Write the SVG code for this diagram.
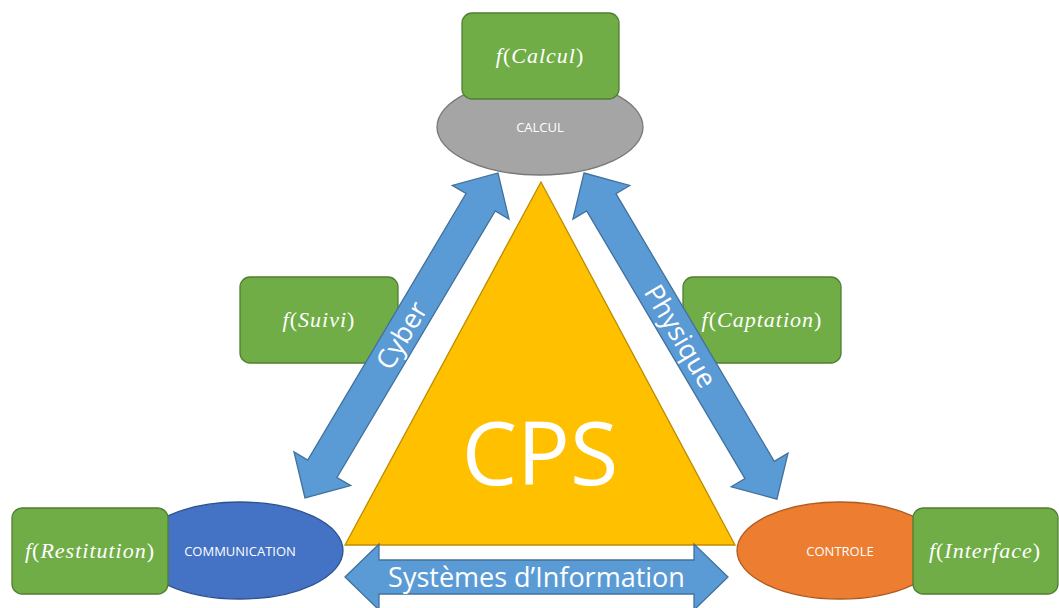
<svg xmlns="http://www.w3.org/2000/svg" width="1059" height="608" viewBox="0 0 1059 608">
<style>
.box{fill:#70AD47;stroke:#507E32;stroke-width:1.3}
.ftxt{font-family:"Liberation Serif",serif;font-size:22px;fill:#fff;text-anchor:middle;letter-spacing:1px}
.it{font-style:italic}
.elab{font-family:"Open Sans","Liberation Sans",sans-serif;font-size:13px;fill:#fff;text-anchor:middle}
.arrow{fill:#5B9BD5;stroke:#41719C;stroke-width:1.3}
.atxt{font-family:"Open Sans","Liberation Sans",sans-serif;font-size:27px;fill:#fff;text-anchor:middle}
</style>
<rect width="1059" height="608" fill="#fff"/>
<g id="calcul">
<ellipse cx="540" cy="127" rx="103" ry="48" fill="#A5A5A5" stroke="#787878" stroke-width="1.3"/>
<text class="elab" x="540" y="132">CALCUL</text>
</g>
<g id="f-calcul">
<rect class="box" x="462" y="13" width="157" height="86" rx="10"/>
<text class="ftxt" x="540" y="63"><tspan class="it">f</tspan>(<tspan class="it">Calcul</tspan>)</text>
</g>
<g id="communication">
<ellipse cx="240" cy="550.5" rx="103" ry="48.5" fill="#4472C4" stroke="#2F528F" stroke-width="1.3"/>
<text class="elab" x="240" y="556">COMMUNICATION</text>
</g>
<g id="f-restitution">
<rect class="box" x="12" y="508" width="156" height="86" rx="10"/>
<text class="ftxt" x="90" y="558"><tspan class="it">f</tspan>(<tspan class="it">Restitution</tspan>)</text>
</g>
<g id="controle">
<ellipse cx="840" cy="550.5" rx="103" ry="48.5" fill="#ED7D31" stroke="#AE5A21" stroke-width="1.3"/>
<text class="elab" x="840" y="556">CONTROLE</text>
</g>
<g id="f-interface">
<rect class="box" x="913" y="508" width="145" height="86" rx="10"/>
<text class="ftxt" x="985" y="558"><tspan class="it">f</tspan>(<tspan class="it">Interface</tspan>)</text>
</g>
<g id="f-suivi">
<rect class="box" x="240" y="277" width="158" height="86" rx="10"/>
<text class="ftxt" x="319" y="327"><tspan class="it">f</tspan>(<tspan class="it">Suivi</tspan>)</text>
</g>
<g id="f-captation">
<rect class="box" x="683" y="277" width="158" height="86" rx="10"/>
<text class="ftxt" x="762" y="327"><tspan class="it">f</tspan>(<tspan class="it">Captation</tspan>)</text>
</g>
<g id="cps">
<polygon points="541,182 345,545 735,545" fill="#FFC000" stroke="#BC8C00" stroke-width="1.3"/>
<text x="540" y="485" font-family="'Open Sans','Liberation Sans',sans-serif" font-size="88" fill="#fff" text-anchor="middle">CPS</text>
</g>
<g id="connectors">
<g transform="translate(305,498) rotate(-59.3)">
<polygon class="arrow" points="0,0 34,-33 34,-17 344,-17 344,-33 378,0 344,33 344,17 34,17 34,33"/>
<text class="atxt" x="189" y="9.5">Cyber</text>
</g>
<g transform="translate(584,173) rotate(59.4)">
<polygon class="arrow" points="0,0 34,-33 34,-17 345,-17 345,-33 379,0 345,33 345,17 34,17 34,33"/>
<text class="atxt" x="189.5" y="9.5">Physique</text>
</g>
<g transform="translate(345,577)">
<polygon class="arrow" points="0,0 34,-33 34,-17 349,-17 349,-33 383,0 349,33 349,17 34,17 34,33"/>
<text class="atxt" x="191.5" y="9.5">Systèmes d’Information</text>
</g>
</g>
</svg>
